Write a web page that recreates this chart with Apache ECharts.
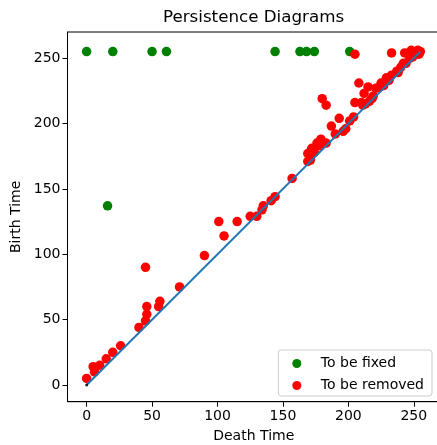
<!DOCTYPE html>
<html>
<head>
<meta charset="utf-8">
<script src="https://cdn.jsdelivr.net/npm/echarts@6/dist/echarts.min.js"></script>
<style>
  html, body { margin: 0; padding: 0; background: #fff; }
  #chart { width: 437px; height: 445px; }
</style>
</head>
<body>
<div id="chart"></div>
<script>
// [death, birth] pairs
const fixedPoints = [
  [0, 255], [20, 255], [50, 255], [61, 255], [144, 255],
  [163, 255], [168, 255], [174, 255], [201, 255], [16, 137]
];
const removedPoints = [
  [0, 5], [5, 14], [6, 10], [10, 15], [15, 20], [20, 25], [26, 30],
  [40, 44], [45, 49], [46, 54], [46, 60], [45, 90], [55, 60], [56, 64],
  [71, 75], [90, 99], [101, 125], [105, 114], [115, 125], [125, 129],
  [130, 129], [134, 134], [135, 137], [141, 141], [144, 144], [157, 158],
  [169, 171], [169, 177], [171, 172], [172, 181], [174, 178], [176, 185],
  [178, 183], [179, 188], [180, 219], [183, 214], [183, 185], [187, 198],
  [190, 192], [193, 204], [196, 194], [198, 196], [201, 202], [204, 205],
  [205, 216], [205, 253], [208, 231], [210, 216], [211, 214], [212, 223],
  [213, 215], [215, 228], [216, 217], [218, 219], [219, 221], [221, 227],
  [224, 228], [225, 231], [227, 229], [229, 235], [231, 233], [233, 237],
  [233, 254], [237, 240], [238, 239], [240, 243], [242, 246], [243, 254],
  [244, 246], [247, 250], [248, 256], [249, 251], [250, 252], [252, 254],
  [253, 256], [254, 253], [255, 255]
];
const diagonal = [[0, 0], [255, 255]];
const originPoint = [[0, 0]];
const xTicks = [0, 50, 100, 150, 200, 250];
const yTicks = [0, 50, 100, 150, 200, 250];

const font = 'DejaVu Sans';
var myChart = echarts.init(document.getElementById('chart'), null, { renderer: 'canvas' });

var option = {
  animation: false,
  backgroundColor: '#fff',
  title: {
    text: 'Persistence Diagrams',
    left: 163,
    top: 9,
    padding: 0,
    textStyle: { fontFamily: font, fontSize: 16.7, fontWeight: 'normal', color: '#000' }
  },
  legend: {
    orient: 'vertical',
    right: 5,
    bottom: 49,
    padding: [6.5, 8, 3.5, 14],
    itemGap: 8,
    itemWidth: 30,
    itemHeight: 9,
    borderColor: '#ccc',
    borderWidth: 1,
    borderRadius: 3,
    backgroundColor: 'rgba(255,255,255,0.8)',
    textStyle: { fontFamily: font, fontSize: 14, color: '#000', padding: [0, 0, 0, 4] },
    data: [
      { name: 'To be fixed', icon: 'circle' },
      { name: 'To be removed', icon: 'circle' }
    ]
  },
  grid: {
    left: 67.5,
    top: 32,
    bottom: 43.3,
    right: -3,
    outerBoundsMode: 'none',
    show: true,
    borderColor: '#000',
    borderWidth: 1
  },
  xAxis: {
    type: 'value',
    min: -14.6,
    max: 270,
    name: 'Death Time',
    nameLocation: 'middle',
    nameGap: 28,
    nameTextStyle: { fontFamily: font, fontSize: 14, color: '#000' },
    axisLine: { show: true, onZero: false, lineStyle: { color: '#000', width: 1 } },
    axisTick: { show: true, length: 5, lineStyle: { color: '#000' }, customValues: xTicks },
    axisLabel: { fontFamily: font, fontSize: 14, color: '#000', margin: 8, customValues: xTicks },
    splitLine: { show: false }
  },
  yAxis: {
    type: 'value',
    min: -12.8,
    max: 270,
    name: 'Birth Time',
    nameLocation: 'middle',
    nameRotate: 90,
    nameGap: 41,
    nameTextStyle: { fontFamily: font, fontSize: 14, color: '#000' },
    axisLine: { show: true, onZero: false, lineStyle: { color: '#000', width: 1 } },
    axisTick: { show: true, length: 5, lineStyle: { color: '#000' }, customValues: yTicks },
    axisLabel: { fontFamily: font, fontSize: 14, color: '#000', margin: 7, customValues: yTicks },
    splitLine: { show: false }
  },
  series: [
    {
      name: 'To be fixed',
      type: 'scatter',
      symbolSize: 9.5,
      itemStyle: { color: '#008000', opacity: 1 },
      data: fixedPoints,
      z: 2
    },
    {
      name: 'To be removed',
      type: 'scatter',
      symbolSize: 9.5,
      itemStyle: { color: '#ff0000', opacity: 1 },
      data: removedPoints,
      z: 3
    },
    {
      type: 'line',
      data: diagonal,
      symbol: 'none',
      lineStyle: { color: '#1f77b4', width: 2 },
      z: 4
    },
    {
      type: 'scatter',
      symbolSize: 3,
      itemStyle: { color: '#000' },
      data: originPoint,
      z: 5
    }
  ]
};

option && myChart.setOption(option);
</script>
</body>
</html>
